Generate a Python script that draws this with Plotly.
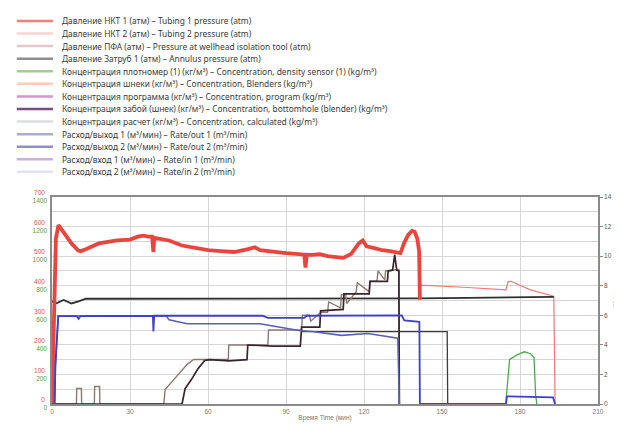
import plotly.graph_objects as go

# ---------------- data ----------------
# time axis in minutes
x_ticks = [0, 30, 60, 90, 120, 150, 180, 210]
p_ticks = [0, 100, 200, 300, 400, 500, 600, 700]          # pressure, atm
c_ticks = [0, 200, 400, 600, 800, 1000, 1200, 1400]       # concentration, kg/m3
r_ticks = [0, 2, 4, 6, 8, 10, 12, 14]                     # rate, m3/min

# Tubing 1 pressure (atm)
t_tub1 = [0, 0.8, 1.5, 2.5, 3.5, 5, 7.5, 10, 11, 13, 18, 25, 30, 33, 35, 37, 38.5, 39, 39.3,
          41, 45, 50, 55, 60, 65, 70, 75, 78, 80, 85, 90, 95, 97, 97.5, 98, 100, 103, 106,
          110, 112, 115, 118, 119.5, 121, 124, 127, 130, 132, 134, 135.5, 137, 138.5, 139.5,
          140.5, 141.2, 141.5]
p_tub1 = [0, 300, 560, 605, 592, 572, 543, 520, 517, 523, 543, 553, 556, 566, 569, 566, 566, 514, 562,
          559, 553, 536, 527, 520, 517, 514, 523, 530, 520, 514, 510, 507, 505, 461, 505, 504, 507, 500,
          494, 494, 507, 543, 553, 533, 527, 520, 517, 514, 510, 546, 572, 586, 582,
          559, 517, 353]

# Tubing 2 pressure (atm) - thin tail after shut-down
t_tub2 = [141.5, 141.7, 160, 174.6, 175.4, 176.5, 178, 184, 192.3, 193, 193.5]
p_tub2 = [353, 402, 394, 386, 413, 415, 409, 386, 366, 364, 0]

# Annulus pressure (atm)
t_ann = [0, 1.5, 4.5, 7.5, 10.5, 13, 20, 60, 100, 141, 160, 192, 193]
p_ann = [348, 340, 352, 340, 348, 356, 356, 356, 356, 357, 359, 364, 362]

# Concentration, density sensor (kg/m3)
t_dens = [174.5, 175.2, 176, 179, 181.7, 184, 185.4, 186, 186.5]
c_dens = [0, 150, 301, 334, 353, 340, 314, 60, 0]

# Concentration, blenders (kg/m3)
t_blend = [0, 9.4, 9.5, 11.3, 11.4, 16.3, 16.4, 18.3, 18.4, 43, 43.5, 46, 48.5, 52, 54.5,
           67.8, 68, 83, 83.3, 96, 96.3, 99, 99.5, 103, 103.3, 106, 106.4, 111, 111.3, 113,
           113.4, 117, 117.4, 122, 122.3, 125, 125.4, 128, 128.3, 133.4, 133.6]
c_blend = [0, 0, 105, 105, 0, 0, 118, 118, 0, 0, 98, 150, 203, 268, 301,
           301, 399, 399, 500, 500, 600, 600, 560, 610, 620, 620, 690, 650, 740, 740,
           680, 760, 820, 760, 830, 830, 900, 840, 900, 910, 0]

# Concentration, bottomhole (blender) (kg/m3)
t_bh = [0, 50, 51.2, 53.8, 56, 58.7, 60.6, 68, 75, 75.3, 85, 95.5, 96, 103, 103.3, 112,
        112.3, 122, 122.3, 129, 129.3, 131, 131.8, 132.6, 133.4, 133.6]
c_bh = [0, 0, 105, 170, 235, 294, 300, 292, 300, 399, 392, 392, 520, 520, 630, 640,
        745, 745, 830, 830, 900, 905, 1010, 905, 900, 0]

# Rate in 1 (m3/min)
t_in1 = [96, 152, 152.2]
r_in1 = [4.9, 4.9, 0]

# Rate out 1 (m3/min)
t_out1 = [0, 1.0, 1.3, 2.4, 20, 44, 45, 50, 52, 80, 86, 95, 100, 111.4, 121.5, 127.6, 133, 133.6]
r_out1 = [0, 0, 2.6, 5.95, 5.95, 5.95, 5.69, 5.49, 5.43, 5.43, 5.23, 4.97, 4.9, 4.64, 4.77, 4.58, 4.45, 0]

# Rate out 2 (m3/min)
t_out2 = [0, 1.0, 1.3, 2.4, 9.5, 10.2, 11, 20, 38.8, 39, 39.3, 45, 81, 83, 97, 98, 133.5,
          134.5, 135.5, 141.3, 141.5, 174.6, 175.0, 185, 192.7, 193.5]
r_out2 = [0, 0, 2.6, 5.95, 5.95, 5.75, 5.95, 5.97, 5.97, 4.9, 5.97, 5.97, 5.97, 5.82, 5.82, 5.97, 5.97,
          6.0, 5.65, 5.56, 0, 0, 0.52, 0.5, 0.45, 0]

# legend
legend_names = [
    "Давление НКТ 1 (атм) – Tubing 1 pressure (atm)",
    "Давление НКТ 2 (атм) – Tubing 2 pressure (atm)",
    "Давление ПФА (атм) – Pressure at wellhead isolation tool (atm)",
    "Давление Затруб 1 (атм) – Annulus pressure (atm)",
    "Концентрация плотномер (1) (кг/м³) – Concentration, density sensor (1) (kg/m³)",
    "Концентрация шнеки (кг/м³) – Concentration, Blenders (kg/m³)",
    "Концентрация программа (кг/м³) – Concentration, program (kg/m³)",
    "Концентрация забой (шнек) (кг/м³) – Concentration, bottomhole (blender) (kg/m³)",
    "Концентрация расчет (кг/м³) – Concentration, calculated (kg/m³)",
    "Расход/выход 1 (м³/мин) – Rate/out 1 (m³/min)",
    "Расход/выход 2 (м³/мин) – Rate/out 2 (m³/min)",
    "Расход/вход 1 (м³/мин) – Rate/in 1 (m³/min)",
    "Расход/вход 2 (м³/мин) – Rate/in 2 (m³/min)",
]
legend_colors = ["#f0807c", "#f9d4d2", "#e6c8c6", "#8e8e8e", "#9fd08f", "#f9cdb8", "#cf96cf",
                 "#7a4e78", "#dcdce6", "#a9adca", "#8f8fd0", "#c7b2db", "#e2e2f0"]

# ---------------- figure ----------------
W, H = 622, 425
ML, MR, MT, MB = 44, 20, 189, 22
PW, PH = W - ML - MR, H - MT - MB

fig = go.Figure()

def add(t, v, color, width, yaxis, name):
    fig.add_trace(go.Scatter(x=t, y=v, mode="lines", name=name, yaxis=yaxis,
                             line=dict(color=color, width=width), showlegend=False,
                             hoverinfo="skip"))

add(t_tub2, p_tub2, "#ee7777", 1.2, "y", "tub2")
add(t_ann, p_ann, "#2e2e2e", 1.8, "y", "ann")
add(t_in1, r_in1, "#3c3c3c", 1.3, "y3", "in1")
add(t_out1, r_out1, "#5a62b0", 1.6, "y3", "out1")
add(t_out2, r_out2, "#3f3fc8", 1.8, "y3", "out2")
add(t_blend, c_blend, "#8c7a72", 1.4, "y2", "blend")
add(t_bh, c_bh, "#3a2430", 1.7, "y2", "bh")
add(t_dens, c_dens, "#4caa4c", 1.3, "y2", "dens")
add(t_tub1, p_tub1, "#e8453e", 3.8, "y", "tub1")

# manual compact legend in the top margin
def px2paper_x(px):
    return (px - ML) / PW

def px2paper_y(py):
    return (H - MB - py) / PH

shapes = []
annotations = []
for i, (name, col) in enumerate(zip(legend_names, legend_colors)):
    yy = 7 + 13 * i
    shapes.append(dict(type="line", xref="paper", yref="paper",
                       x0=px2paper_x(8), x1=px2paper_x(45),
                       y0=px2paper_y(yy), y1=px2paper_y(yy),
                       line=dict(color=col, width=2.5)))
    annotations.append(dict(xref="paper", yref="paper", x=px2paper_x(52), y=px2paper_y(yy),
                            text=name, showarrow=False, xanchor="left", yanchor="middle",
                            font=dict(family="Noto Sans", size=8.4, color="#3a3a3a")))

grid = "#d6d6d6"
frame = "#8a8a8a"
tickfont = dict(family="Liberation Sans", size=6.5, color="#777777")

fig.update_layout(
    width=W, height=H,
    margin=dict(l=ML, r=MR, t=MT, b=MB, pad=0),
    paper_bgcolor="white", plot_bgcolor="white",
    showlegend=False,
    shapes=shapes, annotations=annotations,
    xaxis=dict(range=[0, 210], tickvals=x_ticks, ticktext=[str(v) for v in x_ticks],
               showgrid=True, gridcolor=grid, gridwidth=1, zeroline=False,
               showline=True, linecolor=frame, linewidth=1.5, mirror=True,
               ticks="", tickfont=tickfont,
               title=dict(text="Время Time (мин)", font=dict(family="Liberation Sans", size=6.5,
                                                             color="#777777"), standoff=2)),
    yaxis=dict(range=[0, 700], tickvals=p_ticks, ticktext=[str(v) for v in p_ticks],
               showgrid=True, gridcolor=grid, gridwidth=1, zeroline=False,
               minor=dict(dtick=50, showgrid=True, gridcolor=grid, gridwidth=1),
               showline=True, linecolor=frame, linewidth=1.5,
               ticks="", ticklabelshift=-4, ticklabelstandoff=4,
               tickfont=dict(family="Liberation Sans", size=6.5, color="#e8504a")),
    yaxis2=dict(range=[0, 1400], tickvals=c_ticks, ticktext=[str(v) for v in c_ticks],
                overlaying="y", side="left", showgrid=False, zeroline=False,
                showline=False, ticks="", ticklabelshift=4, ticklabelstandoff=4,
                tickfont=dict(family="Liberation Sans", size=6.5, color="#4fa04a")),
    yaxis3=dict(range=[0, 14], tickvals=r_ticks, ticktext=[str(v) for v in r_ticks],
                overlaying="y", side="right", showgrid=False, zeroline=False,
                showline=True, linecolor=frame, linewidth=1.5,
                ticks="outside", ticklen=3, tickcolor=frame,
                tickfont=dict(family="Liberation Sans", size=6.5, color="#555555"),
                title=dict(text="м³/мин", font=dict(family="Liberation Sans", size=6,
                                                    color="#777777"), standoff=2)),
)

fig.write_html("out.html")
